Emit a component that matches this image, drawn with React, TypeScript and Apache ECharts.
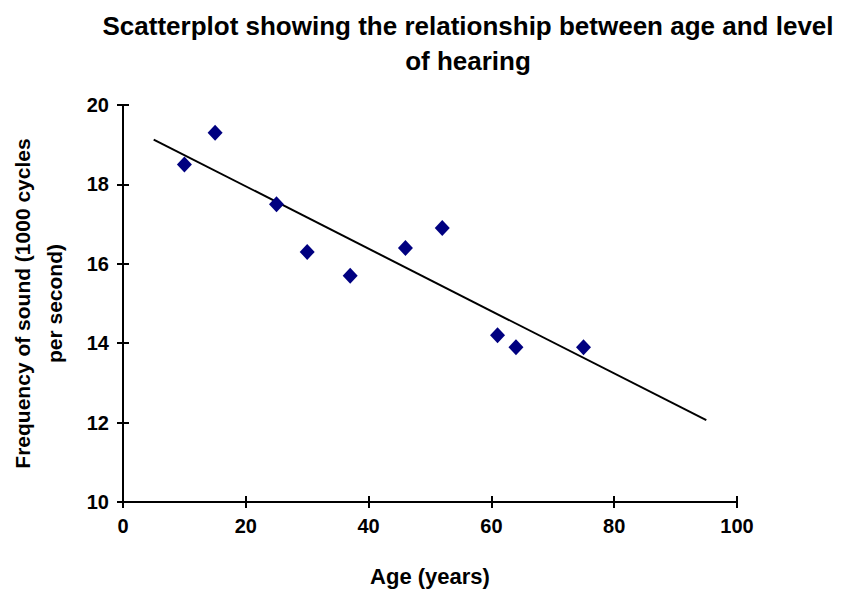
import React, { useEffect, useRef } from "react";
import * as echarts from "echarts";

const ages = [10, 15, 25, 30, 37, 46, 52, 61, 64, 75];
const frequencies = [18.5, 19.3, 17.5, 16.3, 15.7, 16.4, 16.9, 14.2, 13.9, 13.9];
const trendX = [5, 95];
const trendY = [19.13, 12.06];

const FONT = "'Liberation Sans', Arial, sans-serif";

export default function App() {
  const ref = useRef<HTMLDivElement>(null);
  useEffect(() => {
    document.body.style.margin = "0";
    const chart = echarts.init(ref.current!, null, { renderer: "svg" });
    const axisLine = { show: true, lineStyle: { color: "#000", width: 2 } };
    const baseX = { type: "value", min: 0, max: 100, interval: 20, splitLine: { show: false } };
    const baseY = { type: "value", min: 10, max: 20, interval: 2, splitLine: { show: false } };
    chart.setOption({
      animation: false,
      backgroundColor: "#fff",
      title: {
        text: "Scatterplot showing the relationship between age and level\nof hearing",
        left: 463,
        textAlign: "center",
        top: 3,
        textStyle: { fontFamily: FONT, fontSize: 26, fontWeight: "bold", color: "#000", lineHeight: 35 },
      },
      grid: { left: 123, right: 111, top: 105, bottom: 90, outerBoundsMode: "none", containLabel: false },
      xAxis: [
        {
          ...baseX,
          name: "Age (years)",
          nameLocation: "middle",
          nameGap: 63,
          nameTextStyle: { fontFamily: FONT, fontSize: 22, fontWeight: "bold", color: "#000" },
          axisLine,
          axisTick: { show: true, length: 6, lineStyle: { color: "#000", width: 2 } },
          axisLabel: { fontFamily: FONT, fontSize: 20, fontWeight: "bold", color: "#000", margin: 14 },
        },
        {
          ...baseX,
          position: "bottom",
          axisLine: { show: false },
          axisTick: { show: true, inside: true, length: 6, lineStyle: { color: "#000", width: 2 } },
          axisLabel: { show: false },
        },
      ],
      yAxis: [
        {
          ...baseY,
          name: "Frequency of sound (1000 cycles\nper second)",
          nameLocation: "middle",
          nameGap: 53,
          nameTextStyle: { fontFamily: FONT, fontSize: 21, fontWeight: "bold", color: "#000", lineHeight: 32 },
          axisLine,
          axisTick: { show: true, length: 6, lineStyle: { color: "#000", width: 2 } },
          axisLabel: { fontFamily: FONT, fontSize: 20, fontWeight: "bold", color: "#000", margin: 14 },
        },
        {
          ...baseY,
          position: "left",
          axisLine: { show: false },
          axisTick: { show: true, inside: true, length: 6, lineStyle: { color: "#000", width: 2 } },
          axisLabel: { show: false },
        },
      ],
      series: [
        {
          type: "line",
          data: trendX.map((x, i) => [x, trendY[i]]),
          showSymbol: false,
          symbol: "none",
          lineStyle: { color: "#000", width: 2 },
          z: 1,
        },
        {
          type: "scatter",
          data: ages.map((a, i) => [a, frequencies[i]]),
          symbol: "diamond",
          symbolSize: [15, 16],
          itemStyle: { color: "#000080", opacity: 1 },
          z: 2,
        },
      ],
    });
    return () => chart.dispose();
  }, []);
  return <div ref={ref} style={{ width: 848, height: 592 }} />;
}
